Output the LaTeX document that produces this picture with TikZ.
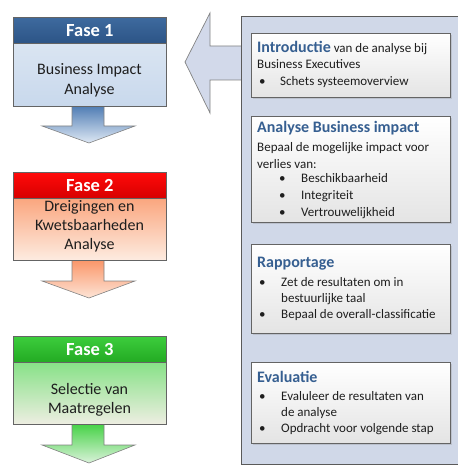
\documentclass[tikz,border=0pt]{standalone}
\usepackage{fontspec}
\setmainfont{Carlito}
\usetikzlibrary{shadows}
\definecolor{panelfill}{RGB}{208,216,232}
\definecolor{panelline}{RGB}{90,90,90}
\definecolor{arrowfill}{RGB}{210,217,234}
\definecolor{arrowline}{RGB}{130,130,130}
\definecolor{boxline}{RGB}{100,100,100}
\definecolor{headblue}{RGB}{54,95,145}
\definecolor{txtc}{RGB}{30,30,30}
\definecolor{fatop}{RGB}{62,106,158}
\definecolor{fabot}{RGB}{44,84,134}
\definecolor{fabodyt}{RGB}{218,229,242}
\definecolor{fabodyb}{RGB}{200,216,236}
\definecolor{faarrt}{RGB}{80,125,180}
\definecolor{faarrb}{RGB}{222,232,244}
\definecolor{fbtop}{RGB}{255,10,10}
\definecolor{fbbot}{RGB}{215,0,0}
\definecolor{fbbodyt}{RGB}{250,165,125}
\definecolor{fbbodyb}{RGB}{253,236,225}
\definecolor{fbarrt}{RGB}{250,150,105}
\definecolor{fbarrb}{RGB}{253,228,214}
\definecolor{fctop}{RGB}{60,205,60}
\definecolor{fcbot}{RGB}{35,170,35}
\definecolor{fcbodyt}{RGB}{135,225,135}
\definecolor{fcbodyb}{RGB}{238,238,226}
\definecolor{fcarrt}{RGB}{70,210,70}
\definecolor{fcarrb}{RGB}{218,242,218}
\definecolor{innerb}{RGB}{228,228,228}
\tikzset{
  hdrbox/.style={draw=boxline, line width=0.8pt, minimum width=153pt, minimum height=26pt,
    anchor=north west, inner sep=0pt, text=white, font=\fontsize{18.5}{22}\selectfont\bfseries},
  bodybox/.style={draw=boxline, line width=0.8pt, minimum width=153pt, anchor=north west, inner sep=0pt},
  bodytxt/.style={anchor=base, inner sep=0pt, text=txtc, font=\fontsize{16}{19}\selectfont},
  downarrow/.style={draw=arrowline, line width=0.6pt},
  panelbox/.style={draw=panelline, fill=panelfill, line width=0.9pt, anchor=north west,
    minimum width=230pt, minimum height=448pt, inner sep=0pt},
  innerbox/.style={draw=boxline, line width=0.8pt, top color=white, bottom color=innerb,
    anchor=north west, minimum width=199pt, inner sep=0pt,
    drop shadow={shadow xshift=1.2pt, shadow yshift=-1.2pt, opacity=0.25}},
  htxt/.style={anchor=base west, inner sep=0pt, text=headblue, font=\fontsize{16}{19}\selectfont\bfseries},
  ltxt/.style={anchor=base west, inner sep=0pt, text=txtc, font=\fontsize{13}{16}\selectfont},
}
\begin{document}
\begin{tikzpicture}[x=1pt,y=-1pt]
\useasboundingbox (0,0) rectangle (457,465);
% big left arrow
\draw[draw=arrowline, fill=arrowfill, line width=0.7pt]
  (241,46) -- (210,46) -- (210,13) -- (185,62) -- (210,113) -- (210,80) -- (241,80);
% panel
\node[panelbox] (panel) at (241,16) {};
% phase arrows
\shadedraw[downarrow, top color=faarrt, bottom color=faarrb]
  (72,106) -- (104,106) -- (104,126) -- (135,126) -- (89,143) -- (42,126) -- (72,126) -- cycle;
\shadedraw[downarrow, top color=fbarrt, bottom color=fbarrb]
  (72,260) -- (104,260) -- (104,281) -- (135,281) -- (89,298) -- (42,281) -- (72,281) -- cycle;
\shadedraw[downarrow, top color=fcarrt, bottom color=fcarrb]
  (72,424) -- (104,424) -- (104,445) -- (135,445) -- (89,463) -- (42,445) -- (72,445) -- cycle;
% Fase 1
\node[bodybox, minimum height=63pt, top color=fabodyt, bottom color=fabodyb] (f1b) at (13,43) {};
\node[hdrbox, top color=fatop, bottom color=fabot] (f1h) at (13,17) {Fase 1};
\node[bodytxt] (f1l1) at (89.5,75) {Business Impact};
\node[bodytxt] (f1l2) at (89.5,95) {Analyse};
% Fase 2
\node[bodybox, minimum height=63pt, top color=fbbodyt, bottom color=fbbodyb] (f2b) at (13,197) {};
\node[hdrbox, top color=fbtop, bottom color=fbbot] (f2h) at (13,172) {Fase 2};
\node[bodytxt] (f2l1) at (89.5,211) {Dreigingen en};
\node[bodytxt] (f2l2) at (89.5,230) {Kwetsbaarheden};
\node[bodytxt] (f2l3) at (89.5,249) {Analyse};
% Fase 3
\node[bodybox, minimum height=62pt, top color=fcbodyt, bottom color=fcbodyb] (f3b) at (13,362) {};
\node[hdrbox, top color=fctop, bottom color=fcbot] (f3h) at (13,336) {Fase 3};
\node[bodytxt] (f3l1) at (89.5,394) {Selectie van};
\node[bodytxt] (f3l2) at (89.5,413) {Maatregelen};
% inner boxes
\node[innerbox, minimum height=64pt] (b1) at (251,33) {};
\node[innerbox, minimum height=106pt] (b2) at (251,116) {};
\node[innerbox, minimum height=89pt] (b3) at (251,244) {};
\node[innerbox, minimum height=81pt] (b4) at (251,362) {};
% box 1 text
\node[ltxt] (b1h) at (257,53) {{\color{headblue}\bfseries\fontsize{16}{19}\selectfont Introductie} van de analyse bij};
\node[ltxt] (b1l1) at (257,69) {Business Executives};
\node[ltxt] (b1d1) at (259,86) {•};
\node[ltxt] (b1l2) at (280,86) {Schets systeemoverview};
% box 2 text
\node[htxt] (b2h) at (257,133) {Analyse Business impact};
\node[ltxt] (b2l1) at (257,152) {Bepaal de mogelijke impact voor};
\node[ltxt] (b2l2) at (257,168) {verlies van:};
\node[ltxt] (b2d1) at (279,182) {•};
\node[ltxt] (b2l3) at (301,182) {Beschikbaarheid};
\node[ltxt] (b2d2) at (279,199) {•};
\node[ltxt] (b2l4) at (301,199) {Integriteit};
\node[ltxt] (b2d3) at (279,216) {•};
\node[ltxt] (b2l5) at (301,216) {Vertrouwelijkheid};
% box 3 text
\node[htxt] (b3h) at (257,267) {Rapportage};
\node[ltxt] (b3d1) at (259,286) {•};
\node[ltxt] (b3l1) at (281,286) {Zet de resultaten om in};
\node[ltxt] (b3l2) at (281,302) {bestuurlijke taal};
\node[ltxt] (b3d2) at (259,318) {•};
\node[ltxt] (b3l3) at (281,318) {Bepaal de overall-classificatie};
% box 4 text
\node[htxt] (b4h) at (257,382) {Evaluatie};
\node[ltxt] (b4d1) at (259,400) {•};
\node[ltxt] (b4l1) at (281,400) {Evaluleer de resultaten van};
\node[ltxt] (b4l2) at (281,416) {de analyse};
\node[ltxt] (b4d2) at (259,432) {•};
\node[ltxt] (b4l3) at (281,432) {Opdracht voor volgende stap};
\end{tikzpicture}
\end{document}
